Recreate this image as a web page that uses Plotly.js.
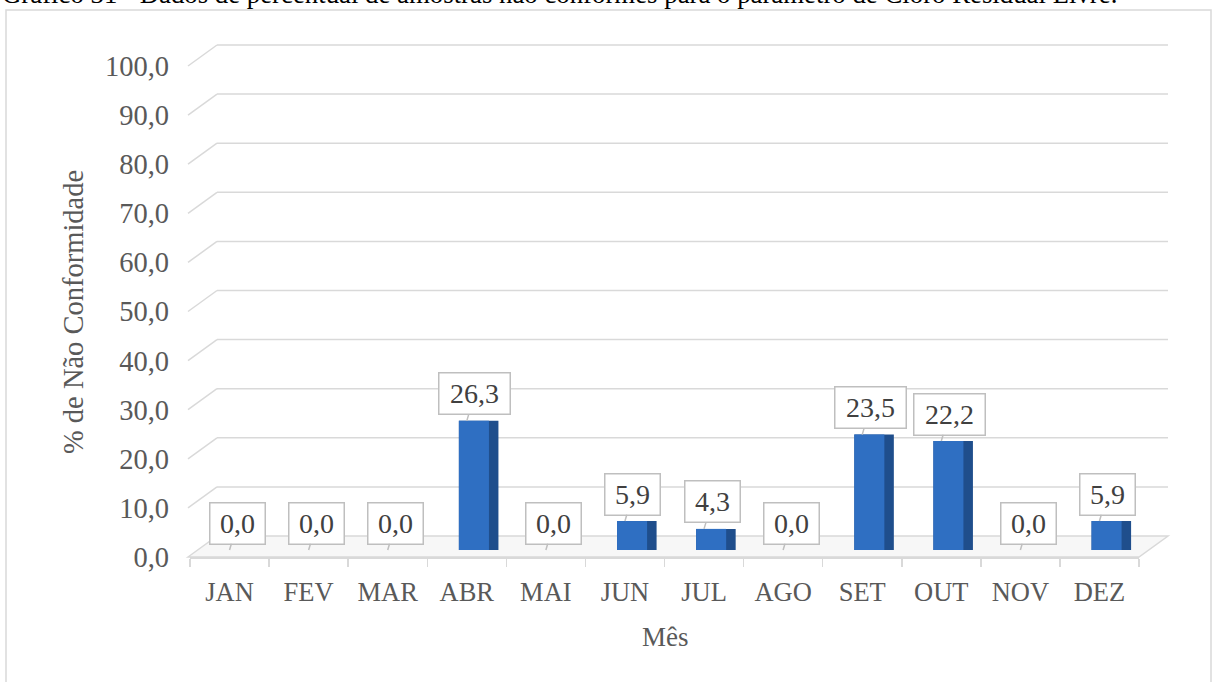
<!DOCTYPE html>
<html>
<head>
<meta charset="utf-8">
<script src="https://cdn.plot.ly/plotly-3.0.1.min.js"></script>
<style>html,body{margin:0;padding:0;background:#fff;}#chart{width:1213px;height:682px;}</style>
</head>
<body>
<div id="chart"></div>
<script>
// ---- data ----
const months = ["JAN","FEV","MAR","ABR","MAI","JUN","JUL","AGO","SET","OUT","NOV","DEZ"];
const naoConformidade = [0.0, 0.0, 0.0, 26.3, 0.0, 5.9, 4.3, 0.0, 23.5, 22.2, 0.0, 5.9];
const yTicks = [0,10,20,30,40,50,60,70,80,90,100];
const pageTitle = "Gráfico 31 - Dados de percentual de amostras não conformes para o parâmetro de Cloro Residual Livre.";
const yTitle = "% de Não Conformidade";
const xTitle = "Mês";

// ---- geometry (pixels) ----
const W = 1213, H = 682;
const L = 190, R = 1139, T = 41, B = 557;
const pxPerUnit = 4.91;
const yTop = (B - T) / pxPerUnit;
const barBase = 550;
const plotW = R - L, plotH = B - T;
const px2paperX = x => (x - L) / plotW;
const px2paperY = y => (B - y) / plotH;
const depthX = 29, depthY = 21;
const depthUnits = depthY / pxPerUnit;

const fmt = v => v.toFixed(1).replace('.', ',');
const serif = "Liberation Serif, Times New Roman, serif";

const traces = [
  {type:'bar', x: months, y: naoConformidade, xaxis:'x', yaxis:'y2',
   width:0.5, offset:-0.1, marker:{color:'#1F4E8C'}, hoverinfo:'skip', showlegend:false},
  {type:'bar', x: months, y: naoConformidade, xaxis:'x', yaxis:'y2',
   width:0.38, offset:-0.1, marker:{color:'#2F6FC2'}, hoverinfo:'skip', showlegend:false}
];

const shapes = [];
// outer frame
shapes.push({type:'rect', xref:'paper', yref:'paper', x0:px2paperX(6), x1:px2paperX(1211), y0:px2paperY(10), y1:px2paperY(700),
  line:{color:'#d9d9d9', width:1.5}, fillcolor:'rgba(0,0,0,0)', layer:'below'});
// floor
shapes.push({type:'path', xref:'paper', yref:'paper', layer:'below',
  path:`M ${px2paperX(188)} ${px2paperY(B)} L ${px2paperX(188+depthX)} ${px2paperY(B-depthY)} L ${px2paperX(R+depthX)} ${px2paperY(B-depthY)} L ${px2paperX(R)} ${px2paperY(B)} Z`,
  fillcolor:'#f7f7f7', line:{color:'#d9d9d9', width:1.5}});
// back-wall gridlines
yTicks.forEach(v => {
  if (v === 0) return;
  shapes.push({type:'line', xref:'paper', yref:'y', layer:'below', x0:px2paperX(188), y0:v, x1:px2paperX(188+depthX), y1:v+depthUnits, line:{color:'#d9d9d9', width:1.5}});
  shapes.push({type:'line', xref:'paper', yref:'y', layer:'below', x0:px2paperX(188+depthX), y0:v+depthUnits, x1:px2paperX(R+depthX), y1:v+depthUnits, line:{color:'#d9d9d9', width:1.5}});
});

const annotations = [];
naoConformidade.forEach((v,i) => {
  const t = fmt(v);
  annotations.push({x: months[i], y: v, xref:'x', yref:'y2', text: t,
    showarrow:true, arrowhead:0, arrowwidth:1.5, arrowcolor:'#bfbfbf', ax:8, ay:-27,
    bgcolor:'#ffffff', bordercolor:'#bfbfbf', borderwidth:1.5, borderpad:3,
    width: t.length > 3 ? 64 : 48, height: 34,
    font:{family:serif, size:28, color:'#404040'}});
});
annotations.push({xref:'paper', yref:'paper', x:px2paperX(0), y:px2paperY(-6), xanchor:'left', yanchor:'middle',
  text: pageTitle, showarrow:false, font:{family:serif, size:26.8, color:'#000'}});
annotations.push({xref:'paper', yref:'paper', x:px2paperX(73), y:px2paperY(312), xanchor:'center', yanchor:'middle', textangle:-90,
  text: yTitle, showarrow:false, font:{family:serif, size:28.5, color:'#595959'}});
annotations.push({xref:'paper', yref:'paper', x:px2paperX(665), y:px2paperY(637), xanchor:'center', yanchor:'middle',
  text: xTitle, showarrow:false, font:{family:serif, size:27, color:'#595959'}});

const layout = {
  width: W, height: H,
  margin:{l:L, r:W-R, t:T, b:H-B, pad:0},
  paper_bgcolor:'#fff', plot_bgcolor:'rgba(0,0,0,0)',
  separators: ',.',
  barmode:'overlay',
  showlegend:false,
  xaxis:{type:'category', tickson:'boundaries', ticks:'outside', ticklen:8, tickwidth:1.5, tickcolor:'#d9d9d9',
    showline:true, linecolor:'#d9d9d9', linewidth:1.5, showgrid:false, zeroline:false,
    tickfont:{family:serif, size:26.5, color:'#595959'}, ticklabelstandoff:11, fixedrange:true},
  yaxis:{range:[0, yTop], tickvals:yTicks, tickformat:'.1f', showgrid:false, zeroline:false, showline:false, ticks:'',
    tickfont:{family:serif, size:28.5, color:'#595959'}, ticklabelstandoff:20, fixedrange:true},
  yaxis2:{domain:[(B-barBase)/plotH, 1], range:[0, (barBase-T)/pxPerUnit], anchor:'x', visible:false, showgrid:false, zeroline:false, fixedrange:true},
  shapes, annotations
};

Plotly.newPlot('chart', traces, layout, {staticPlot:true, displayModeBar:false});
</script>
</body>
</html>
